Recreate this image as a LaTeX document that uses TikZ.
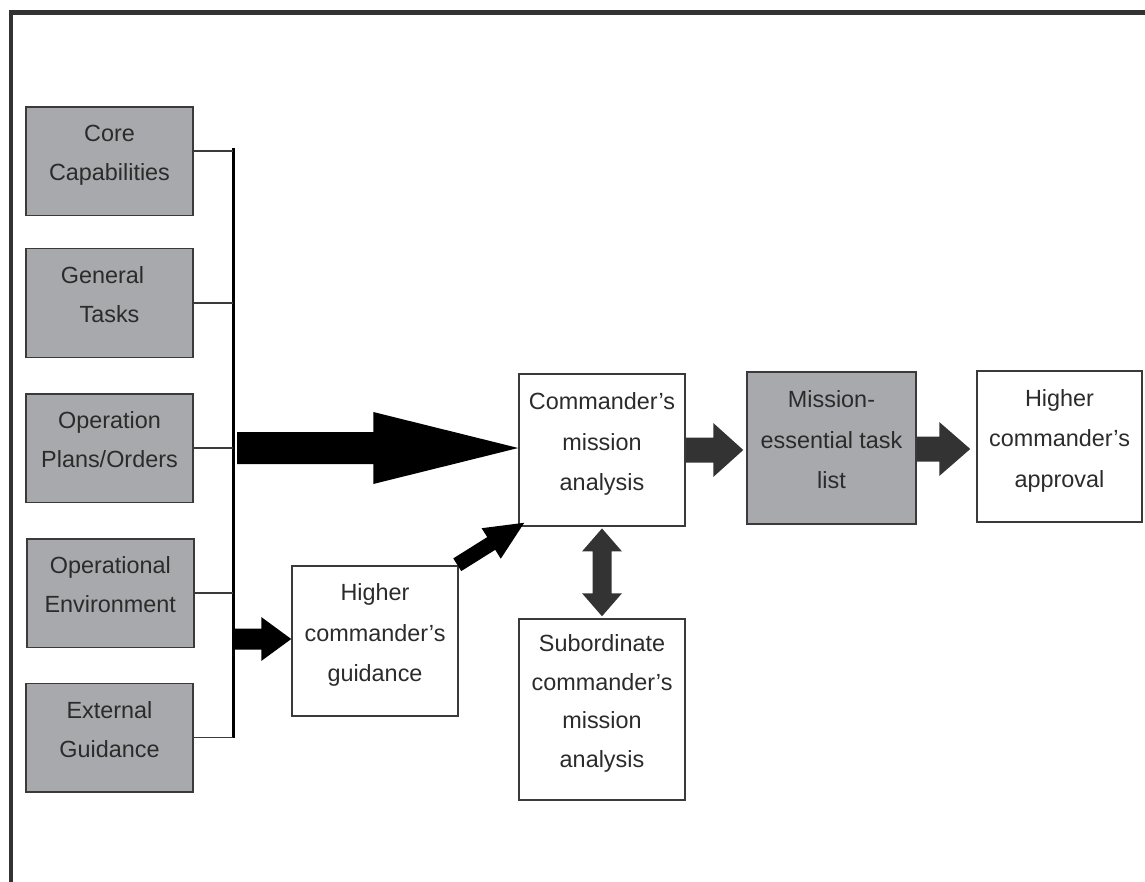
\documentclass[tikz,border=0pt]{standalone}
\usepackage{fontspec}
\setmainfont{Liberation Sans}
\usetikzlibrary{calc}

\definecolor{framec}{HTML}{333333}
\definecolor{boxline}{HTML}{3A3A3A}
\definecolor{boxgray}{HTML}{A8A9AC}
\definecolor{txtc}{HTML}{2B2B2B}
\definecolor{darkarrow}{HTML}{333333}

% one line of box text, with a strut that makes every line exactly one baselineskip
\newcommand\ls{\rule[-.5\baselineskip]{0pt}{\baselineskip}}

% block arrow: #1 fill style, #2 tail, #3 tip, #4 shaft half width, #5 head half width, #6 head length
\newcommand\blockarrow[6]{%
  \coordinate (ba-h) at ($(#3)!#6!(#2)$);
  \fill[#1] ($(#2)!#4!90:(#3)$) -- ($(ba-h)!#4!90:(#3)$) -- ($(ba-h)!#5!90:(#3)$)
    -- (#3) -- ($(ba-h)!#5!-90:(#3)$) -- ($(ba-h)!#4!-90:(#3)$)
    -- ($(#2)!#4!-90:(#3)$) -- cycle;
}
% double-headed block arrow: #1 fill style, #2 and #3 tips, #4 shaft half, #5 head half, #6 head length
\newcommand\dblarrow[6]{%
  \coordinate (da-a) at ($(#2)!#6!(#3)$);
  \coordinate (da-b) at ($(#3)!#6!(#2)$);
  \fill[#1] (#2) -- ($(da-a)!#5!90:(#3)$) -- ($(da-a)!#4!90:(#3)$)
    -- ($(da-b)!#4!-90:(#2)$) -- ($(da-b)!#5!-90:(#2)$) -- (#3)
    -- ($(da-b)!#5!90:(#2)$) -- ($(da-b)!#4!90:(#2)$)
    -- ($(da-a)!#4!-90:(#3)$) -- ($(da-a)!#5!-90:(#3)$) -- cycle;
}

\begin{document}
\begin{tikzpicture}[x=1pt,y=-1pt,
  box/.style={draw=boxline, line width=1.5pt, inner sep=0pt, align=center,
    text=txtc, font=\fontsize{23.4}{40.5}\selectfont},
  graybox/.style={box, fill=boxgray, minimum width=167pt, minimum height=108.5pt,
    font=\fontsize{23.4}{39}\selectfont},
  whitebox/.style={box, fill=white},
  frame/.style={draw=framec, line width=4.5pt},
  feed/.style={draw=boxline, line width=1.3pt},
  bus/.style={draw=black, line width=3pt},
]
\useasboundingbox (0,0) rectangle (1145,882);
\fill[white] (0,0) rectangle (1145,882);

% outer frame (top and left edges)
\draw[frame] (11,890) -- (11,12.7) -- (1150,12.7);

% source boxes
\node[graybox] (core) at (109.5,161.5) {\ls Core\\\ls Capabilities};
\node[graybox] (gen)  at (109.5,303)   {\ls General\hspace*{14pt}\\\ls Tasks};
\node[graybox] (ops)  at (109.5,448)   {\ls Operation\\\ls Plans/Orders};
\node[graybox] (env)  at (110.3,593)   {\ls Operational\\\ls Environment};
\node[graybox] (ext)  at (109.5,737.5) {\ls External\\\ls Guidance};

% collecting bus
\coordinate (bt) at (233,148);
\coordinate (bb) at (233,738);
\draw[bus] (bt) -- (bb);
\draw[feed] ([yshift=10.5pt]core.east) -- ([yshift=10.5pt]core.east -| bt);
\draw[feed] (gen.east) -- (gen.east -| bt);
\draw[feed] (ops.east) -- (ops.east -| bt);
\draw[feed] (env.east) -- (env.east -| bt);
\draw[feed] (ext.east) -- (ext.east -| bt);

% process boxes
\node[whitebox, minimum width=166pt, minimum height=152pt] (cmd) at (602,450)
  {\ls Commander’s\\\ls mission\\\ls analysis};
\node[box, fill=boxgray, minimum width=169pt, minimum height=152pt] (metl) at (831.5,448)
  {\ls Mission-\\\ls essential task\\\ls list};
\node[whitebox, minimum width=165pt, minimum height=151pt] (appr) at (1059.5,446.5)
  {\ls Higher\\\ls commander’s\\\ls approval};
\node[whitebox, minimum width=166pt, minimum height=150pt] (hcg) at (375,641)
  {\ls Higher\\\ls commander’s\\\ls guidance};
\node[whitebox, minimum width=166pt, minimum height=181pt,
  font=\fontsize{23.4}{38.5}\selectfont] (sub) at (602,709.5)
  {\ls Subordinate\\\ls commander’s\\\ls mission\\\ls analysis};

% arrows
\coordinate (s1) at (237,448);
\blockarrow{black}{s1}{cmd.west |- s1}{16pt}{36pt}{145pt}
\coordinate (s2) at (234,639);
\blockarrow{black}{s2}{hcg.west |- s2}{10.5pt}{22pt}{30pt}
\blockarrow{black}{$(hcg.north east)+(-1.5,-0.5)$}{$(cmd.south west)+(6,-4)$}{7.5pt}{18pt}{39pt}
\blockarrow{darkarrow}{cmd.east}{[xshift=-3pt]metl.west |- cmd.east}{12.5pt}{27pt}{30pt}
\blockarrow{darkarrow}{metl.east |- 0,449}{[xshift=-6pt]appr.west |- 0,449}{12.5pt}{27pt}{31pt}
\dblarrow{darkarrow}{$(cmd.south)+(0,1.7)$}{$(sub.north)+(0,-2)$}{9.5pt}{20pt}{23pt}
\end{tikzpicture}
\end{document}
